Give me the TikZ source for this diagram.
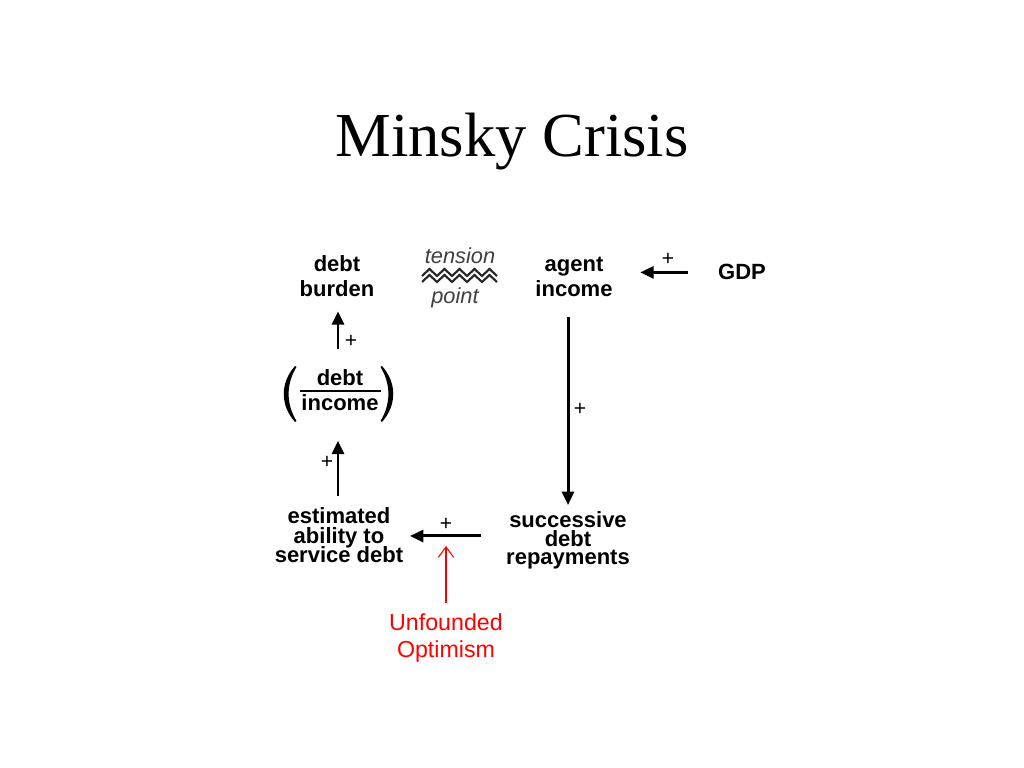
\documentclass[tikz,border=0pt]{standalone}
\usepackage{fontspec}
\setmainfont{Liberation Serif}
\newfontfamily\arialf{Liberation Sans}
\usetikzlibrary{arrows.meta}
\begin{document}
\begin{tikzpicture}[x=0.01cm,y=-0.01cm,
  lab/.style={font=\arialf\bfseries\fontsize{6.26}{7.1}\selectfont, align=center, inner sep=0},
  tight/.style={font=\arialf\bfseries\fontsize{6.26}{5.3}\selectfont\setlength{\lineskiplimit}{-20pt}, align=center, inner sep=0},
  tighter/.style={font=\arialf\bfseries\fontsize{6.26}{5.6}\selectfont\setlength{\lineskiplimit}{-20pt}, align=center, inner sep=0},
  sign/.style={font=\arialf\fontsize{6}{7}\selectfont, inner sep=0},
  arr/.style={line width=0.85pt, -{Triangle[length=3.8pt,width=3.4pt]}},
  redarr/.style={draw=red, line width=0.3pt, -{Straight Barb[length=3pt,width=4.4pt,line width=0.3pt]}},
  note/.style={font=\arialf\itshape\fontsize{6.2}{7}\selectfont, text=black!75, inner sep=0},
  optim/.style={font=\arialf\fontsize{6.6}{7.9}\selectfont, text=red, align=center, inner sep=0},
  zig/.style={line width=0.6pt, draw=black!85, line join=miter}
]
\useasboundingbox[fill=white] (0,0) rectangle (1024,768);
\node[font=\fontsize{17.8}{20}\selectfont, anchor=base, inner sep=0] (title) at (512,157) {Minsky Crisis};

% nodes
\node[lab] (burden) at (337,276) {debt\\burden};
\node[note, anchor=base] (tension) at (460,264) {tension};
\node[note, anchor=base] (point) at (455,304) {point};
\node[lab] (agent) at (574,277) {agent\\income};
\node[lab, anchor=base] (gdp) at (742,280) {GDP};

\node[lab, anchor=base] (num) at (340,386) {debt};
\node[lab, anchor=base] (den) at (340,411) {income};
\node[inner sep=0, minimum width=1cm, minimum height=0.9cm] (ratio) at (338,395) {};

\node[tighter, anchor=base] (ability) at (339,563) {estimated\\ability to\\service debt};
\node[tight, anchor=base] (repay) at (568,565) {successive\\debt\\repayments};
\node[optim, anchor=base] (optim) at (446,658) {Unfounded\\Optimism};
\coordinate (mid) at (446,536);

% signs
\node[sign] (s1) at (668,259) {+};
\node[sign] (s2) at (580,409) {+};
\node[sign] (s3) at (446,524) {+};
\node[sign] (s4) at (327,462) {+};
\node[sign] (s5) at (351,341) {+};

% zigzags (tension point)
\foreach \yy in {0,6}{
  \draw[zig] (422,276+\yy)
    \foreach \k in {0,...,4}{ -- ({429.5+15*\k},{269+\yy}) -- ({437+15*\k},{276+\yy}) };
}

% fraction
\draw[line width=0.7pt] (300,391) -- (381,391);
\fill (295,366) .. controls (280,383) and (280,405) .. (295,422)
      -- (296.5,421) .. controls (286,404) and (286,384) .. (296.5,367) -- cycle;
\fill (382,366) .. controls (397,383) and (397,405) .. (382,422)
      -- (380.5,421) .. controls (391,404) and (391,384) .. (380.5,367) -- cycle;

% connectors
\draw[arr, shorten <=0.29cm, shorten >=0.27cm] (gdp.west) -- (gdp.west -| agent.east);
\draw[arr, shorten <=0.2cm, shorten >=0.06cm] (repay.north |- agent.south) -- (repay.north);
\draw[arr, shorten <=0.24cm, shorten >=0.06cm] (mid -| repay.west) -- (mid -| ability.east);
\draw[arr, shorten <=0.11cm] (ability.north -| ratio.south) -- (ratio.south);
\draw[arr, shorten >=0.14cm] (ratio.north) -- (ratio.north |- burden.south);
\draw[redarr, shorten <=0.1cm, shorten >=0.1cm] (optim.north) -- (mid);
\end{tikzpicture}
\end{document}
